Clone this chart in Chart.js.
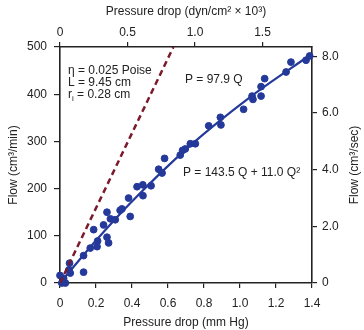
<!DOCTYPE html>
<html>
<head>
<meta charset="utf-8">
<script src="https://cdn.jsdelivr.net/npm/chart.js@4"></script>
<style>
  body { margin: 0; background: #fff; }
  #wrap { width: 364px; height: 330px; }
</style>
</head>
<body>
<div id="wrap"><canvas id="myChart"></canvas></div>
<script>
// measured flow vs pressure drop (mm Hg, cm3/min)
const pressure = [0.00, 0.01, 0.03, 0.02, 0.05, 0.057, 0.053, 0.131, 0.131, 0.187, 0.168, 0.209, 0.206,
    0.261, 0.242, 0.261, 0.27, 0.28, 0.307, 0.334, 0.344, 0.39, 0.381, 0.428, 0.46, 0.461, 0.506,
    0.548, 0.567, 0.581, 0.668, 0.681, 0.696, 0.724, 0.752, 0.826, 0.891, 0.894, 1.02, 1.067, 1.072,
    1.117, 1.117, 1.137, 1.256, 1.283, 1.367, 1.387];
const flow = [16, 0, 0, 10, 28, 21, 42, 23, 58, 113, 74, 89, 77,
    150, 123, 97, 85, 136, 134, 154, 157, 141, 180, 204, 208, 185, 206,
    241, 233, 264, 271, 281, 284, 295, 295, 333, 351, 335, 368, 396, 389,
    416, 396, 433, 447, 468, 472, 481];

// fitted curve P = 143.5 Q + 11.0 Q^2
const fitPressure = [0, 0.2, 0.39, 0.72, 1.06, 1.39];
const fitFlow = [0, 90, 169, 290, 395, 483];

// Poiseuille line P = 97.9 Q
const poisPressure = [0, 0.63];
const poisFlow = [0, 500];

const bottomTicks = ['0', '0.2', '0.4', '0.6', '0.8', '1.0', '1.2', '1.4'];
const topTickValues = [0, 0.5, 1.0, 1.5];
const topTicks = ['0', '0.5', '1.0', '1.5'];
const rightTickValues = [0, 2, 4, 6, 8];
const rightTicks = ['0', '2.0', '4.0', '6.0', '8.0'];

const blue = '#24399a';
const red = '#7a1a2c';
const font = { family: "'Liberation Sans', Arial, sans-serif", size: 12 };

// text labels inside the plot
const labelsPlugin = {
    id: 'labels',
    afterDraw(chart) {
        const ctx = chart.ctx;
        const x = chart.scales.x, y = chart.scales.y;
        ctx.save();
        ctx.fillStyle = '#222';
        ctx.font = "12px 'Liberation Sans', Arial, sans-serif";
        ctx.textBaseline = 'middle';
        ctx.textAlign = 'left';
        const lx = x.left + 8;
        ctx.fillText('\u03b7 = 0.025 Poise', lx, y.top + 24);
        ctx.fillText('L = 9.45 cm', lx, y.top + 36);
        ctx.fillText('r', lx, y.top + 48);
        const rw = ctx.measureText('r').width;
        ctx.font = "8px 'Liberation Sans', Arial, sans-serif";
        ctx.fillText('i', lx + rw, y.top + 52);
        const iw = ctx.measureText('i').width;
        ctx.font = "12px 'Liberation Sans', Arial, sans-serif";
        ctx.fillText(' = 0.28 cm', lx + rw + iw, y.top + 48);

        ctx.fillText('P = 97.9 Q', 185, 80);
        ctx.fillText('P = 143.5 Q + 11.0 Q\u00b2', 183, 173);

        // right axis title, reading bottom to top
        ctx.translate(355, (y.top + y.bottom) / 2);
        ctx.rotate(-Math.PI / 2);
        ctx.textAlign = 'center';
        ctx.fillText('Flow (cm\u00b3/sec)', 0, 0);
        ctx.restore();
    }
};

function axisGrid(len) {
    return { drawOnChartArea: false, tickLength: len, color: '#222', lineWidth: 1.2 };
}
const axisBorder = { color: '#222', width: 1.6 };

const ctx = document.getElementById('myChart');
const myChart = new Chart(ctx, {
    type: 'scatter',
    data: {
        datasets: [
            {
                label: 'Poiseuille',
                type: 'line',
                data: poisPressure.map((p, i) => ({ x: p, y: poisFlow[i] })),
                borderColor: red,
                borderWidth: 2.5,
                borderDash: [6, 4],
                pointRadius: 0,
                fill: false
            },
            {
                label: 'Fit',
                type: 'line',
                data: fitPressure.map((p, i) => ({ x: p, y: fitFlow[i] })),
                borderColor: blue,
                borderWidth: 2.2,
                pointRadius: 0,
                cubicInterpolationMode: 'monotone',
                fill: false
            },
            {
                label: 'Measured',
                data: pressure.map((p, i) => ({ x: p, y: flow[i] })),
                backgroundColor: blue,
                borderColor: blue,
                pointRadius: 3.4,
                clip: false
            }
        ]
    },
    options: {
        responsive: true,
        maintainAspectRatio: false,
        animation: false,
        layout: { padding: 0 },
        plugins: {
            legend: { display: false },
            tooltip: { enabled: false }
        },
        scales: {
            x: {
                type: 'linear', position: 'bottom', min: 0, max: 1.4,
                afterFit: s => { s.height = 47; },
                afterBuildTicks: s => { s.ticks = bottomTicks.map((t, i) => ({ value: i * 0.2 })); },
                ticks: { callback: (v, i) => bottomTicks[i], color: '#222', font: font, padding: 8, maxRotation: 0 },
                grid: axisGrid(5), border: axisBorder,
                title: { display: true, text: 'Pressure drop (mm Hg)', color: '#222', font: font, padding: { top: 0, bottom: 0 } }
            },
            xTop: {
                type: 'linear', position: 'top', min: 0, max: 1.4 * 1.3332,
                afterFit: s => { s.height = 47; },
                afterBuildTicks: s => { s.ticks = topTickValues.map(v => ({ value: v })); },
                ticks: { callback: (v, i) => topTicks[i], color: '#222', font: font, padding: 2, maxRotation: 0 },
                grid: axisGrid(5), border: axisBorder,
                title: { display: true, text: 'Pressure drop (dyn/cm\u00b2 \u00d7 10\u00b3)', color: '#222', font: font, padding: { top: 4, bottom: 0 } }
            },
            y: {
                type: 'linear', position: 'left', min: 0, max: 500,
                afterFit: s => { s.width = 60; },
                ticks: { stepSize: 100, color: '#222', font: font, padding: 7 },
                grid: axisGrid(6), border: axisBorder,
                title: { display: true, text: 'Flow (cm\u00b3/min)', color: '#222', font: font, padding: { top: 6, bottom: 0 } }
            },
            yRight: {
                type: 'linear', position: 'right', min: 0, max: 500 / 60,
                afterFit: s => { s.width = 52; },
                afterBuildTicks: s => { s.ticks = rightTickValues.map(v => ({ value: v })); },
                ticks: { callback: (v, i) => rightTicks[i], color: '#222', font: font, padding: 5 },
                grid: axisGrid(5), border: axisBorder
            }
        }
    },
    plugins: [labelsPlugin]
});
</script>
</body>
</html>
